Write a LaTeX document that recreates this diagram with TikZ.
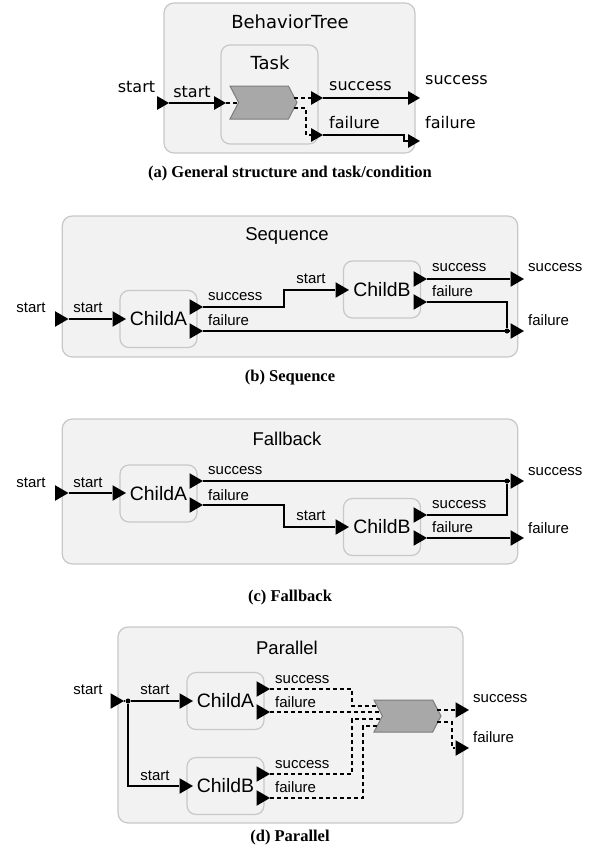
\documentclass[tikz,border=0pt]{standalone}
\usepackage{fontspec}
\setmainfont{Liberation Serif}
\setsansfont{Liberation Sans}
\newfontfamily\dejavu{DejaVu Sans}
\usetikzlibrary{shapes.geometric,shapes.symbols}
\definecolor{boxfill}{HTML}{F2F2F2}
\definecolor{boxline}{HTML}{C8C8C8}
\definecolor{chevfill}{HTML}{A8A8A8}
\definecolor{chevline}{HTML}{7C7C7C}
\tikzset{
    x=1pt,
    y=-1pt,
    frame/.style = {
        draw=boxline,
        fill=boxfill,
        line width=1.2pt,
        rounded corners=10pt,
        inner sep=0pt
    },
    child/.style = {
        draw=boxline,
        fill=boxfill,
        line width=1.2pt,
        rounded corners=9pt,
        inner sep=0pt,
        minimum width=77pt,
        minimum height=57pt,
        font=\sffamily\fontsize{19.4}{21}\selectfont
    },
    port/.style = {
        regular polygon,
        regular polygon sides=3,
        shape border rotate=-90,
        fill=black,
        inner sep=0pt,
        minimum size=18pt
    },
    porta/.style = {port, minimum size=16pt},
    chev/.style = {
        signal,
        signal from=west,
        signal to=east,
        signal pointer angle=125,
        draw=chevline,
        fill=chevfill,
        line width=1pt,
        inner sep=0pt,
        minimum width=67pt,
        minimum height=33pt
    },
    junc/.style = {circle, fill=black, inner sep=0pt, minimum size=5pt},
    title/.style = {inner sep=0pt, font=\sffamily\fontsize{18.5}{20}\selectfont},
    titlea/.style = {inner sep=0pt, font=\dejavu\fontsize{18}{20}\selectfont},
    lbl/.style = {inner sep=0pt, font=\sffamily\fontsize{15}{17}\selectfont},
    lbla/.style = {inner sep=0pt, font=\dejavu\fontsize{16}{18}\selectfont},
    subcap/.style = {inner sep=0pt, font=\rmfamily\bfseries\fontsize{16.5}{18}\selectfont},
    wire/.style = {draw, line width=1.5pt},
    dwire/.style = {draw, line width=1.2pt, dash pattern=on 4pt off 3pt},
}
\begin{document}
\begin{tikzpicture}
    \useasboundingbox (0,0) rectangle (599,859);

    % (a) general structure
    \node[frame, minimum width=251pt, minimum height=150pt] (bt) at (289.5,78) {};
    \node[titlea] (bttl) at (290,22) {BehaviorTree};
    \node[child, minimum width=97pt, minimum height=99pt] (task) at (269.5,94.5) {};
    \node[titlea] (tasktl) at (270,63) {Task};
    \node[chev] (cond) at (263.5,102.5) {};

    \node[porta] (a-in) at (161,103) {};
    \node[porta] (t-in) at (218,103) {};
    \node[porta] (t-s) at (315,98) {};
    \node[porta] (t-f) at (315,135) {};
    \node[porta] (a-s) at (412,98) {};
    \node[porta] (a-f) at (412,141) {};
    \coordinate (a-n) at (239,103);
    \coordinate (a-cs) at (294,98);
    \coordinate (a-cf) at (294,108);
    \coordinate (a-b1) at (306,135);
    \coordinate (a-b2) at (404,141);

    \node[lbla] (a-l1) at (136.5,87) {start};
    \node[lbla] (a-l2) at (192,92) {start};
    \node[lbla, anchor=west] (a-l3) at (329,86) {success};
    \node[lbla, anchor=west] (a-l4) at (329,123) {failure};
    \node[lbla, anchor=west] (a-l5) at (425,80) {success};
    \node[lbla, anchor=west] (a-l6) at (425,123) {failure};

    \path[wire] (a-in) -- (t-in);
    \path[dwire] (t-in) -- (a-n);
    \path[dwire] (a-cs) -- (t-s);
    \path[dwire] (a-cf) -| (a-b1) -- (t-f);
    \path[wire] (t-s) -- (a-s);
    \path[wire] (t-f) -| (a-b2) -- (a-f);

    \node[subcap] (capa) at (290,174) {(a) General structure and task/condition};

    % (b) sequence
    \node[frame, minimum width=455.5pt, minimum height=141pt] (seq) at (290,286.5) {};
    \node[title] (seqtl) at (287,236) {Sequence};
    \node[child] (b-ca) at (158.5,319) {ChildA};
    \node[child] (b-cb) at (382,289.5) {ChildB};

    \node[port] (b-in) at (59.5,319) {};
    \node[port] (b-ain) at (117,319) {};
    \node[port] (b-as) at (194,307) {};
    \node[port] (b-af) at (194,331) {};
    \node[port] (b-bin) at (340,290) {};
    \node[port] (b-bs) at (418,279) {};
    \node[port] (b-bf) at (418,302) {};
    \node[port] (b-s) at (515,279) {};
    \node[port] (b-f) at (515,331) {};
    \node[junc] (b-j) at (507,331) {};
    \coordinate (b-b1) at (284,290);

    \node[lbl] (b-l1) at (31,308) {start};
    \node[lbl] (b-l2) at (88,308) {start};
    \node[lbl, anchor=west] (b-l3) at (208,297) {success};
    \node[lbl, anchor=west] (b-l4) at (208,320) {failure};
    \node[lbl] (b-l5) at (311,279) {start};
    \node[lbl, anchor=west] (b-l6) at (432,268) {success};
    \node[lbl, anchor=west] (b-l7) at (432,291) {failure};
    \node[lbl, anchor=west] (b-l8) at (528,268) {success};
    \node[lbl, anchor=west] (b-l9) at (528,320) {failure};

    \path[wire] (b-in) -- (b-ain);
    \path[wire] (b-as) -| (b-b1) -- (b-bin);
    \path[wire] (b-af) -- (b-f);
    \path[wire] (b-bs) -- (b-s);
    \path[wire] (b-bf) -| (b-j);

    \node[subcap] (capb) at (290,378) {(b) Sequence};

    % (c) fallback
    \node[frame, minimum width=455.5pt, minimum height=145pt] (fb) at (290,491.5) {};
    \node[title] (fbtl) at (287,439) {Fallback};
    \node[child] (c-ca) at (158.5,493.5) {ChildA};
    \node[child] (c-cb) at (382,527) {ChildB};

    \node[port] (c-in) at (59.5,493) {};
    \node[port] (c-ain) at (117,493) {};
    \node[port] (c-as) at (194,481) {};
    \node[port] (c-af) at (194,505) {};
    \node[port] (c-bin) at (340,527) {};
    \node[port] (c-bs) at (418,515) {};
    \node[port] (c-bf) at (418,538) {};
    \node[port] (c-s) at (515,481) {};
    \node[port] (c-f) at (515,538) {};
    \node[junc] (c-j) at (507,481) {};
    \coordinate (c-b1) at (284,527);

    \node[lbl] (c-l1) at (31,483) {start};
    \node[lbl] (c-l2) at (88,483) {start};
    \node[lbl, anchor=west] (c-l3) at (208,471) {success};
    \node[lbl, anchor=west] (c-l4) at (208,495) {failure};
    \node[lbl] (c-l5) at (311,516) {start};
    \node[lbl, anchor=west] (c-l6) at (432,505) {success};
    \node[lbl, anchor=west] (c-l7) at (432,527) {failure};
    \node[lbl, anchor=west] (c-l8) at (528,472) {success};
    \node[lbl, anchor=west] (c-l9) at (528,528) {failure};

    \path[wire] (c-in) -- (c-ain);
    \path[wire] (c-as) -- (c-s);
    \path[wire] (c-af) -| (c-b1) -- (c-bin);
    \path[wire] (c-bs) -| (c-j);
    \path[wire] (c-bf) -- (c-f);

    \node[subcap] (capc) at (290,598) {(c) Fallback};

    % (d) parallel
    \node[frame, minimum width=345pt, minimum height=196pt] (par) at (290.5,725) {};
    \node[title] (partl) at (287,648) {Parallel};
    \node[child] (d-ca) at (225.5,701) {ChildA};
    \node[child] (d-cb) at (225.5,786) {ChildB};
    \node[chev, minimum height=32pt] (join) at (407.5,716) {};

    \node[port] (d-in) at (115,701) {};
    \node[junc] (d-j) at (128,701) {};
    \node[port] (d-ain) at (184,701) {};
    \node[port] (d-bin) at (184,786) {};
    \node[port] (d-as) at (261,689) {};
    \node[port] (d-af) at (261,712) {};
    \node[port] (d-bs) at (261,774) {};
    \node[port] (d-bf) at (261,798) {};
    \node[port] (d-s) at (460,710) {};
    \node[port] (d-f) at (460,748) {};
    \coordinate (d-b1) at (352,706);
    \coordinate (d-b2) at (352,719);
    \coordinate (d-b3) at (363,726);
    \coordinate (d-b4) at (452,748);
    \coordinate (d-n1) at (377,706);
    \coordinate (d-n2) at (381,712);
    \coordinate (d-n3) at (381,719);
    \coordinate (d-n4) at (377,726);
    \coordinate (d-cs) at (437,710);
    \coordinate (d-cf) at (437,722);

    \node[lbl] (d-l1) at (88,690) {start};
    \node[lbl] (d-l2) at (155,690) {start};
    \node[lbl] (d-l3) at (155,776) {start};
    \node[lbl, anchor=west] (d-l4) at (275,680) {success};
    \node[lbl, anchor=west] (d-l5) at (275,702) {failure};
    \node[lbl, anchor=west] (d-l6) at (275,765) {success};
    \node[lbl, anchor=west] (d-l7) at (275,787) {failure};
    \node[lbl, anchor=west] (d-l8) at (473,699) {success};
    \node[lbl, anchor=west] (d-l9) at (473,737) {failure};

    \path[wire] (d-in) -- (d-j) -- (d-ain);
    \path[wire] (d-j) |- (d-bin);
    \path[dwire] (d-as) -| (d-b1) -- (d-n1);
    \path[dwire] (d-af) -- (d-n2);
    \path[dwire] (d-bs) -| (d-b2) -- (d-n3);
    \path[dwire] (d-bf) -| (d-b3) -- (d-n4);
    \path[dwire] (d-cs) -- (d-s);
    \path[dwire] (d-cf) -| (d-b4) -- (d-f);

    \node[subcap] (capd) at (290,838) {(d) Parallel};
\end{tikzpicture}
\end{document}
